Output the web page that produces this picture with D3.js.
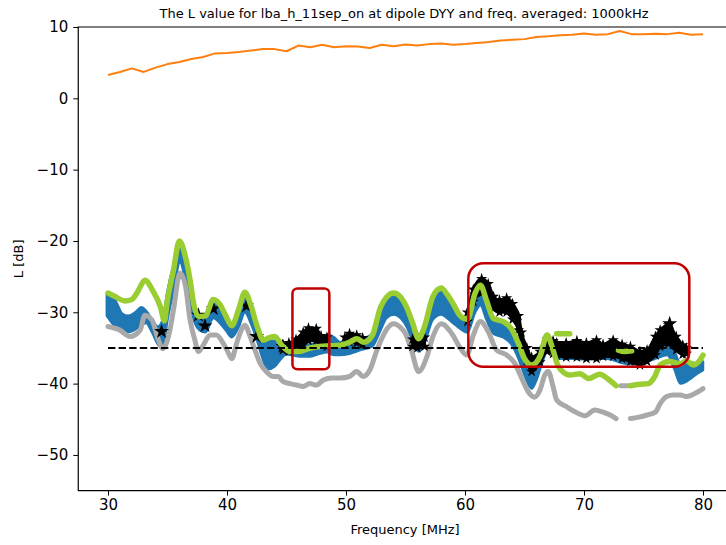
<!DOCTYPE html>
<html><head><meta charset="utf-8">
<script src="https://cdn.jsdelivr.net/npm/d3@7"></script>
<style>body{margin:0;background:#fff;overflow:hidden} svg{display:block} text{font-family:"DejaVu Sans",sans-serif;fill:#000}</style>
</head><body><svg id="c" width="726" height="545"></svg>
<script>
// ---------- DATA ----------
const title = "The L value for lba_h_11sep_on at dipole DYY and freq. averaged: 1000kHz";
const xLabel = "Frequency [MHz]";
const yLabel = "L [dB]";
const xTicks = [30, 40, 50, 60, 70, 80];
const yTicks = [10, 0, -10, -20, -30, -40, -50];

// orange line (1 MHz steps)
const orangeF = [30,31,32,33,34,35,36,37,38,39,40,41,42,43,44,45,46,47,48,49,50,51,52,53,54,55,56,57,58,59,60,61,62,63,64,65,66,67,68,69,70,71,72,73,74,75,76,77,78,79,80];
const orangeV = [3.27,3.7,4.2,3.7,4.3,4.8,5.1,5.5,5.8,6.3,6.35,6.5,6.7,6.9,6.9,6.6,7.4,7.15,7.5,7.15,7.3,7.25,7.05,7.5,7.3,7.55,7.4,7.6,7.7,7.5,7.6,7.75,7.9,8.1,8.2,8.3,8.6,8.7,8.85,8.9,9.1,8.9,9.0,9.45,9.0,9.0,9.05,9.0,9.2,8.9,9.0];

// green series (null = gap)
const greenF = [30,30.6,31.4,32,32.5,33.1,33.8,34.4,34.75,34.95,35.5,36.0,36.5,36.9,37.2,37.6,38.2,38.85,39.4,39.9,40.4,41.0,41.5,42.0,42.5,43.05,43.5,44.0,44.6,45.3,46.1,47.0,47.8,48.65,49.5,50.3,50.9,51.5,52.2,52.9,53.4,54.0,54.6,55.1,55.6,56.1,56.6,57.3,58.0,58.5,59.0,59.6,60.2,60.85,61.3,61.8,62.4,63.2,63.9,64.5,65.0,65.6,66.3,66.9,67.4,67.85,68.8,69.65,70.4,71.3,72.2,72.7,72.8,73.9,74.7,75.4,75.95,76.4,77.2,78.1,78.6,79.2,79.6,80.0];
const greenV = [-27.3,-27.8,-28.4,-28.2,-27.1,-25.5,-27.1,-29.2,-31.2,-28.8,-24.1,-20.0,-22.2,-25.5,-28.8,-30.6,-30.5,-28.2,-28.9,-30.5,-31.9,-29.5,-27.2,-29.0,-31.8,-33.9,-33.6,-33.4,-34.6,-35.5,-35.5,-35.0,-34.8,-34.7,-34.6,-34.2,-33.7,-34.2,-33.3,-29.3,-27.9,-27.3,-27.9,-29.3,-31.5,-33.7,-32.0,-27.8,-26.6,-27.5,-28.8,-30.5,-31.0,-27.3,-26.2,-28.3,-30.9,-31.3,-32.3,-34.4,-36.5,-37.4,-36.2,-33.2,-35.3,-37.6,-38.8,-38.6,-39.3,-38.7,-39.6,-40.3,null,-40.3,-40.1,-40.0,-39.0,-37.4,-36.9,-37.2,-36.8,-37.4,-37.0,-36.0];
const greenF2 = [67.7,68.0,68.5,68.8];
const greenV2 = [-33.0,-33.0,-33.0,-33.0];
const greenF3 = [72.9,73.4,74.0];
const greenV3 = [-35.3,-35.5,-35.4];

// gray series
const grayF = [30,31,31.85,32.7,33.1,33.7,34.2,34.6,35.2,35.5,36.05,36.5,36.9,37.3,37.6,38.0,38.6,39.1,39.7,40.0,40.4,40.8,41.2,41.5,41.9,42.35,42.8,43.3,43.9,44.3,44.7,45.3,45.85,46.4,46.95,47.5,48.1,48.8,49.5,50.3,50.9,51.45,52.0,52.6,53.0,53.5,54.0,54.5,55.0,55.5,56.1,56.8,57.3,58.0,58.9,59.6,60.15,60.7,61.3,61.95,62.65,63.5,64.2,64.7,65.3,65.85,66.3,66.7,67.0,67.4,67.7,68.5,69.2,70.1,70.9,71.6,72.2,72.7,72.8,73.9,74.6,75.3,76.0,76.4,76.95,77.5,78.1,78.6,79.3,80.0];
const grayV = [-32.0,-32.5,-33.4,-32.5,-30.4,-31.1,-33.7,-35.1,-32.5,-29.7,-24.5,-26.2,-31.1,-33.9,-35.5,-34.6,-33.2,-33.2,-34.4,-35.3,-36.5,-34.4,-32.5,-31.8,-33.2,-35.3,-37.2,-38.3,-39.0,-39.0,-39.7,-40.0,-40.2,-40.4,-40.0,-40.2,-39.5,-39.2,-39.2,-39.0,-38.3,-39.0,-38.1,-35.3,-33.7,-32.2,-31.6,-32.0,-33.0,-35.3,-38.3,-36.2,-33.4,-31.6,-33.0,-35.0,-36.0,-33.2,-31.3,-32.7,-35.3,-36.0,-37.2,-39.0,-41.1,-41.9,-40.9,-38.8,-38.3,-40.4,-42.3,-43.2,-43.9,-44.5,-43.7,-44.0,-44.4,-44.9,null,-44.9,-44.7,-44.4,-44.0,-42.8,-41.8,-41.6,-41.6,-41.8,-41.4,-40.7];
const grayF2 = [73.1,73.4,73.7];
const grayV2 = [-40.3,-40.3,-40.3];

// blue band (upper / lower envelope)
const blueF  = [29.9,30.6,31.2,31.7,32.3,32.8,33.2,33.7,34.2,34.6,35.0,35.5,36.05,36.5,36.9,37.3,37.7,38.2,38.85,39.4,39.9,40.4,41.0,41.5,42.0,42.5,43.0,43.4,44.0,44.45,45.0,45.5,46.1,47.0,47.8,48.4,49.0,49.5,50.3,51.2,52.2,52.9,53.4,54.0,54.6,55.1,55.6,56.1,56.6,57.3,58.0,58.5,59.0,59.6,60.2,60.85,61.3,61.8,62.4,63.2,63.9,64.5,65.0,65.6,66.0,66.5,66.9,67.4,67.9,69.0,70.0,71.0,72.0,73.0,74.0,75.0,76.0,77.0,77.6,78.1,78.5,78.95,79.5,80.0];
const blueHi = [-27.5,-28.3,-30.2,-30.5,-30.0,-29.3,-29.8,-31.0,-32.0,-31.0,-27.0,-23.5,-20.8,-23.0,-26.0,-29.0,-30.5,-30.8,-28.6,-29.2,-30.8,-32.0,-30.0,-27.6,-29.3,-32.0,-33.5,-34.0,-34.0,-34.8,-35.0,-34.5,-34.8,-34.5,-34.2,-33.1,-33.5,-34.2,-33.8,-33.7,-33.1,-29.8,-28.2,-27.8,-28.3,-29.8,-32.0,-33.8,-32.5,-28.5,-27.2,-27.8,-29.0,-30.5,-31.0,-27.8,-26.8,-28.5,-31.0,-31.5,-32.5,-34.5,-36.0,-37.0,-36.5,-34.5,-33.5,-34.5,-35.0,-35.0,-35.2,-35.0,-35.0,-35.5,-35.8,-35.6,-35.0,-34.5,-35.5,-37.2,-37.0,-37.0,-37.2,-36.9];
const blueLo = [-30.5,-32.0,-32.6,-32.8,-32.4,-31.8,-31.5,-32.8,-34.5,-35.0,-31.0,-27.0,-23.0,-25.5,-29.0,-31.5,-32.5,-32.8,-30.8,-31.5,-32.5,-33.5,-32.0,-30.0,-31.5,-33.8,-36.5,-38.0,-37.6,-36.7,-35.9,-36.0,-36.2,-36.2,-35.8,-35.6,-36.0,-36.0,-35.8,-35.3,-34.8,-32.5,-30.8,-30.3,-30.8,-32.0,-34.0,-35.5,-34.3,-31.0,-30.3,-30.8,-31.5,-32.3,-32.8,-30.0,-29.0,-31.0,-33.0,-33.5,-34.5,-36.5,-38.8,-40.7,-39.5,-37.0,-35.5,-36.0,-36.5,-36.5,-36.6,-36.5,-36.5,-37.0,-37.3,-37.1,-36.5,-36.0,-38.0,-40.0,-39.8,-39.3,-38.6,-38.1];

// black band (null = gap)
const blackF  = [44.7,45.2,45.8,46.4,46.85,47.5,47.9,48.4,48.5,49.9,50.3,50.9,51.4,51.5,55.6,56.0,56.6,56.7,60.2,60.7,61.4,61.95,62.4,62.9,63.5,64.0,64.5,64.75,65.2,65.6,66.3,66.9,67.4,67.7,68.5,69.4,70.2,71.05,71.6,72.45,73.2,73.9,74.7,75.3,76.0,76.4,77.1,77.75,78.3,78.6];
const blackHi = [-34.5,-34.3,-33.8,-32.8,-32.2,-32.3,-33.3,-33.5,null,-33.5,-33.0,-33.2,-33.6,null,-33.8,-33.3,-33.5,null,-30.0,-26.8,-25.3,-26.0,-27.8,-28.3,-28.0,-28.8,-30.5,-32.8,-35.0,-36.3,-35.5,-33.8,-34.0,-34.3,-34.3,-34.0,-34.3,-33.9,-34.5,-33.9,-34.5,-34.8,-35.5,-35.3,-33.4,-32.5,-31.8,-33.4,-34.6,-35.0];
const blackLo = [-35.3,-35.5,-35.3,-34.5,-34.0,-34.0,-34.5,-34.8,null,-34.5,-34.2,-34.3,-34.5,null,-34.8,-35.0,-34.8,null,-31.3,-28.5,-27.3,-28.0,-29.5,-30.0,-30.0,-31.0,-32.5,-34.5,-36.8,-38.3,-37.0,-35.5,-35.8,-36.0,-36.3,-36.3,-36.5,-36.5,-36.2,-36.2,-36.5,-36.9,-37.4,-36.9,-36.0,-34.8,-34.4,-35.3,-35.9,-35.8];
// isolated black star markers
const starF = [34.5,37.6,38.15,38.85,41.65,42.5,44.7,77.2];
const starV = [-32.7,-30.4,-31.9,-29.5,-29.1,-33.4,-34.8,-31.6];

// dashed threshold line
const threshF = [30, 80];
const threshV = [-35, -35];

// red annotation boxes
const boxF0 = [45.5, 60.28];
const boxF1 = [48.6, 78.85];
const boxVTop = [-26.65, -23.14];
const boxVBot = [-38.0, -37.64];
const boxR = [5, 15];

// ---------- DRAW ----------
const svg = d3.select("#c");
const x = d3.scaleLinear([27.5, 82.5], [78.25, 732.75]);
const y = d3.scaleLinear([-55, 10], [490.6, 27]);

const plot = svg.append("g");
const clipId = "clipA";
svg.append("defs").append("clipPath").attr("id", clipId)
  .append("rect").attr("x", x(27.5)).attr("y", y(10)).attr("width", x(82.5) - x(27.5)).attr("height", y(-55) - y(10));
plot.attr("clip-path", `url(#${clipId})`);

const zipL = (F, V) => F.map((f, i) => ({f, v: V[i]}));
const lineGen = d3.line().defined(d => d.v !== null).x(d => x(d.f)).y(d => y(d.v)).curve(d3.curveMonotoneX);
const lineLin = d3.line().defined(d => d.v !== null).x(d => x(d.f)).y(d => y(d.v));
const areaGen = d3.area().defined(d => d.hi !== null).x(d => x(d.f)).y0(d => y(d.lo)).y1(d => y(d.hi)).curve(d3.curveMonotoneX);

// blue band
const blueData = blueF.map((f, i) => ({f, hi: blueHi[i], lo: blueLo[i]}));
plot.append("path").datum(blueData).attr("d", areaGen)
  .attr("fill", "#1f77b4").attr("stroke", "#1f77b4").attr("stroke-width", 2.5).attr("stroke-linejoin", "round");

// gray
[[grayF, grayV], [grayF2, grayV2]].forEach(([F, V]) => {
  plot.append("path").datum(zipL(F, V)).attr("d", lineGen)
    .attr("fill", "none").attr("stroke", "#a9a9a9").attr("stroke-width", 5)
    .attr("stroke-linecap", "round").attr("stroke-linejoin", "round");
});

// black band
const blackData = blackF.map((f, i) => ({f, hi: blackHi[i], lo: blackLo[i]}));
plot.append("path").datum(blackData).attr("d", areaGen)
  .attr("fill", "#000").attr("stroke", "#000").attr("stroke-width", 3).attr("stroke-linejoin", "round");
const star = d3.symbol().type(d3.symbolStar).size(40);
plot.append("g").selectAll("path").data(blackData.filter(d => d.hi !== null)).join("path")
  .attr("d", star).attr("fill", "#000")
  .attr("transform", d => `translate(${x(d.f)},${y(d.hi)})`);
plot.append("g").selectAll("path").data(blackData.filter(d => d.hi !== null)).join("path")
  .attr("d", star).attr("fill", "#000")
  .attr("transform", d => `translate(${x(d.f)},${y(d.lo)})`);
plot.append("g").selectAll("path").data(zipL(starF, starV)).join("path")
  .attr("d", d3.symbol().type(d3.symbolStar).size(70)).attr("fill", "#000")
  .attr("transform", d => `translate(${x(d.f)},${y(d.v)})`);

// green
[[greenF, greenV], [greenF2, greenV2], [greenF3, greenV3]].forEach(([F, V]) => {
  plot.append("path").datum(zipL(F, V)).attr("d", lineGen)
    .attr("fill", "none").attr("stroke", "#9acd32").attr("stroke-width", 5.5)
    .attr("stroke-linecap", "round").attr("stroke-linejoin", "round");
});

// dashed line
plot.append("path").datum(zipL(threshF, threshV)).attr("d", lineLin)
  .attr("fill", "none").attr("stroke", "#000").attr("stroke-width", 2).attr("stroke-dasharray", "7.4 3.2");

// orange
plot.append("path").datum(zipL(orangeF, orangeV)).attr("d", lineLin)
  .attr("fill", "none").attr("stroke", "#ff7f0e").attr("stroke-width", 2).attr("stroke-linejoin", "round");

// red boxes
plot.append("g").selectAll("rect").data(boxF0.map((f0, i) => ({f0, f1: boxF1[i], t: boxVTop[i], b: boxVBot[i], r: boxR[i]}))).join("rect")
  .attr("x", d => x(d.f0)).attr("y", d => y(d.t))
  .attr("width", d => x(d.f1) - x(d.f0)).attr("height", d => y(d.b) - y(d.t))
  .attr("rx", d => d.r).attr("ry", d => d.r)
  .attr("fill", "none").attr("stroke", "#c00000").attr("stroke-width", 2.5);

// spines
const X0 = x(27.5), X1 = x(82.5), Y0 = y(-55), Y1 = y(10);
svg.append("path").attr("d", `M${X0},${Y1}H${X1}V${Y0}H${X0}Z`).attr("fill", "none").attr("stroke", "#000").attr("stroke-width", 1.2);

// axes
const xAxis = svg.append("g").attr("transform", `translate(0,${Y0})`)
  .call(d3.axisBottom(x).tickValues(xTicks).tickSize(5).tickPadding(4).tickFormat(d3.format("d")));
xAxis.select(".domain").remove();
xAxis.selectAll("text").attr("font-size", 15).attr("font-family", "DejaVu Sans");
const yAxis = svg.append("g").attr("transform", `translate(${X0},0)`)
  .call(d3.axisLeft(y).tickValues(yTicks).tickSize(5).tickPadding(5).tickFormat(d3.format("d")));
yAxis.select(".domain").remove();
yAxis.selectAll("text").attr("font-size", 15).attr("font-family", "DejaVu Sans");
svg.selectAll(".tick line").attr("stroke", "#000").attr("stroke-width", 1);

// titles
svg.append("text").attr("x", 404).attr("y", 18).attr("text-anchor", "middle").attr("font-size", 13).text(title);
svg.append("text").attr("x", 405).attr("y", 534).attr("text-anchor", "middle").attr("font-size", 13).text(xLabel);
svg.append("text").attr("transform", `translate(23,${(Y0 + Y1) / 2}) rotate(-90)`).attr("text-anchor", "middle").attr("font-size", 13).text(yLabel);
</script></body></html>
